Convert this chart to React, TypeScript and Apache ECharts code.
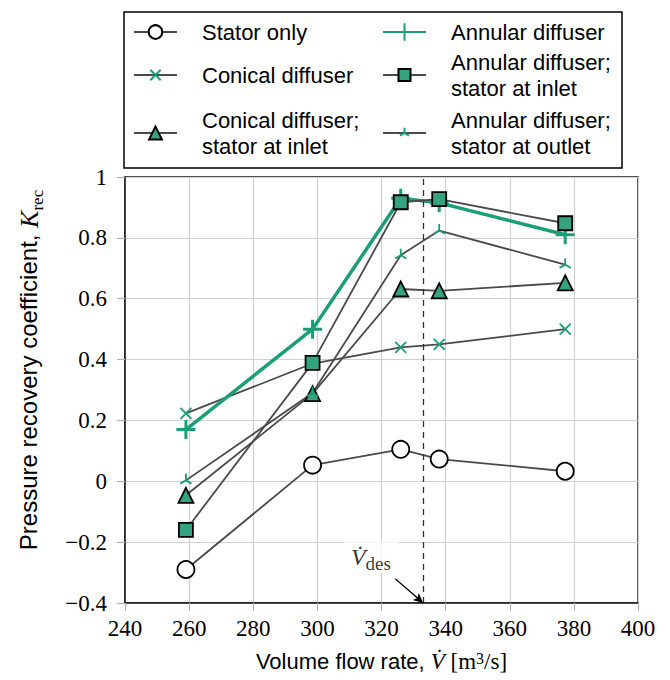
import React, { useEffect, useRef } from 'react';
import * as echarts from 'echarts';

// Volume flow rate [m^3/s]
const flowRates = [259, 298.5, 326, 338, 377.3];

// Pressure recovery coefficient K_rec per configuration
const statorOnly = [-0.29, 0.053, 0.105, 0.073, 0.033];
const conicalDiffuser = [0.223, 0.387, 0.44, 0.45, 0.5];
const conicalStatorInlet = [-0.046, 0.288, 0.632, 0.626, 0.652];
const annularDiffuser = [0.17, 0.5, 0.93, 0.915, 0.81];
const annularStatorInlet = [-0.16, 0.389, 0.917, 0.927, 0.848];
const annularStatorOutlet = [0.003, 0.29, 0.743, 0.824, 0.712];

const seriesNames = [
  'Stator only',
  'Conical diffuser',
  'Conical diffuser; stator at inlet',
  'Annular diffuser',
  'Annular diffuser; stator at inlet',
  'Annular diffuser; stator at outlet',
];

const designFlow = 333;
const annotationText = [316.7, -0.25];
const arrowStart = [324.3, -0.32];
const arrowEnd = [333, -0.4];

const GREEN = '#1b9e77';
const FILL = '#35a37f';
const GRAY = '#4a4a4a';

const crossPath = 'path://M0,0L10,10M10,0L0,10';
const plusPath = 'path://M0,5L10,5M5,0L5,10';
const triPath = 'path://M0,5L0,5M10,5L10,5M5,10L5,10M5,5L5,0M5,5L0.67,7.5M5,5L9.33,7.5';

const pts = (ys: number[]) => flowRates.map((x, i) => [x, ys[i]]);

export default function App() {
  const ref = useRef<HTMLDivElement>(null);
  useEffect(() => {
    const chart = echarts.init(ref.current!, null, { renderer: 'svg' });
    const grayLine = { color: GRAY, width: 1.8 };
    const sans = 'Liberation Sans';
    const serif = 'Liberation Serif';

    const legendPos = [
      { left: 133, center: 32, lines: 1, h: 17 },
      { left: 133, center: 75, lines: 1, h: 13 },
      { left: 133, center: 133, lines: 2, h: 16 },
      { left: 382, center: 32, lines: 1, h: 22 },
      { left: 382, center: 75, lines: 2, h: 15 },
      { left: 382, center: 133, lines: 2, h: 13 },
    ];

    const legends = seriesNames.map((name, i) => ({
      data: [name],
      left: legendPos[i].left,
      top: legendPos[i].center - 13 * legendPos[i].lines,
      orient: 'vertical',
      padding: 0,
      itemWidth: 43,
      itemHeight: legendPos[i].h,
      selectedMode: false,
      formatter: (n: string) => n.replace('; ', ';\n'),
      textStyle: {
        fontFamily: sans,
        fontSize: 22,
        color: '#000',
        lineHeight: 26,
        padding: [0, 0, 0, 20],
      },
    }));

    const tickStyle = { show: true, length: 8, lineStyle: { color: '#b0b0b0', width: 1.2 } };

    const option: any = {
      animation: false,
      backgroundColor: '#fff',
      legend: legends,
      graphic: [
        {
          type: 'rect',
          shape: { x: 124, y: 12, width: 498, height: 156 },
          style: { fill: 'none', stroke: '#000', lineWidth: 1.5 },
          z: 10,
        },
      ],
      grid: {
        left: 125,
        right: 32,
        top: 177,
        bottom: 77,
        show: true,
        borderColor: '#1a1a1a',
        borderWidth: 1.5,
      },
      xAxis: {
        type: 'value',
        min: 240,
        max: 400,
        interval: 20,
        name: '{a|Volume flow rate, }{v|V̇}{b| [m}{sup|3}{c|/s]}',
        nameLocation: 'middle',
        nameGap: 47,
        nameTextStyle: {
          rich: {
            a: { fontFamily: sans, fontSize: 22, color: '#000', lineHeight: 26, verticalAlign: 'top' },
            v: { fontFamily: serif, fontStyle: 'italic', fontSize: 23, color: '#000', lineHeight: 26, verticalAlign: 'top' },
            b: { fontFamily: serif, fontSize: 23, color: '#000', lineHeight: 26, verticalAlign: 'top' },
            sup: { fontFamily: serif, fontSize: 16, color: '#000', lineHeight: 16, verticalAlign: 'top' },
            c: { fontFamily: serif, fontSize: 23, color: '#000', lineHeight: 26, verticalAlign: 'top' },
          },
        },
        axisLine: { show: true, onZero: false, lineStyle: { color: '#1a1a1a', width: 1.5 } },
        axisTick: tickStyle,
        axisLabel: { fontFamily: serif, fontSize: 23, color: '#000', margin: 14 },
        splitLine: { show: true, lineStyle: { color: '#d0d0d0', width: 1.2 } },
      },
      yAxis: {
        type: 'value',
        min: -0.4,
        max: 1,
        interval: 0.2,
        name: '{a|Pressure recovery coefficient, }{k|K}{s|rec}',
        nameLocation: 'middle',
        nameRotate: 90,
        nameGap: 82,
        nameTextStyle: {
          padding: [0, 0, 0, 40],
          rich: {
            a: { fontFamily: sans, fontSize: 24, color: '#000', lineHeight: 27, verticalAlign: 'top' },
            k: { fontFamily: serif, fontStyle: 'italic', fontSize: 26, color: '#000', lineHeight: 27, verticalAlign: 'top' },
            s: { fontFamily: serif, fontSize: 17, color: '#000', lineHeight: 17, verticalAlign: 'top', padding: [13, 0, 0, 0] },
          },
        },
        axisLine: { show: true, onZero: false, lineStyle: { color: '#1a1a1a', width: 1.5 } },
        axisTick: tickStyle,
        axisLabel: {
          fontFamily: serif,
          fontSize: 23,
          color: '#000',
          margin: 18,
          formatter: (v: number) => {
            if (Math.abs(v) < 1e-9) return '0';
            if (Math.abs(v - 1) < 1e-9) return '1';
            return (v < 0 ? '−' : '') + Math.abs(v).toFixed(1);
          },
        },
        splitLine: { show: true, lineStyle: { color: '#d0d0d0', width: 1.2 } },
      },
      series: [
        {
          type: 'line',
          name: seriesNames[0],
          data: pts(statorOnly),
          symbol: 'circle',
          symbolSize: 17,
          itemStyle: { color: '#fff', borderColor: '#000', borderWidth: 1.8 },
          lineStyle: grayLine,
          markLine: {
            silent: true,
            symbol: 'none',
            label: { show: false },
            data: [
              {
                xAxis: designFlow,
                lineStyle: { color: '#333', width: 1.3, type: [6, 5] },
              },
              [
                { coord: arrowStart, symbol: 'none' },
                { coord: arrowEnd, symbol: 'arrow', symbolSize: [7, 10] },
              ],
            ],
            lineStyle: { color: '#000', width: 1.3, type: 'solid' },
          },
        },
        {
          type: 'line',
          name: seriesNames[1],
          data: pts(conicalDiffuser),
          symbol: crossPath,
          symbolSize: 11,
          itemStyle: { color: GREEN, borderColor: GREEN, borderWidth: 1.8 },
          lineStyle: grayLine,
        },
        {
          type: 'line',
          name: seriesNames[2],
          data: pts(conicalStatorInlet),
          symbol: 'triangle',
          symbolSize: 15,
          itemStyle: { color: FILL, borderColor: '#000', borderWidth: 1.8 },
          lineStyle: grayLine,
        },
        {
          type: 'line',
          name: seriesNames[3],
          data: pts(annularDiffuser),
          symbol: plusPath,
          symbolSize: 19,
          itemStyle: { color: GREEN, borderColor: GREEN, borderWidth: 3 },
          lineStyle: { color: GREEN, width: 3.5 },
        },
        {
          type: 'line',
          name: seriesNames[4],
          data: pts(annularStatorInlet),
          symbol: 'rect',
          symbolSize: 14,
          itemStyle: { color: FILL, borderColor: '#000', borderWidth: 1.8 },
          lineStyle: grayLine,
        },
        {
          type: 'line',
          name: seriesNames[5],
          data: pts(annularStatorOutlet),
          symbol: triPath,
          symbolSize: 13,
          itemStyle: { color: GREEN, borderColor: GREEN, borderWidth: 1.8 },
          lineStyle: grayLine,
        },
        {
          type: 'scatter',
          name: 'annotation',
          silent: true,
          symbolSize: 0,
          data: [annotationText],
          label: {
            show: true,
            position: 'inside',
            backgroundColor: '#fff',
            padding: [4, 7, 2, 7],
            formatter: '{v|V̇}{d|des}',
            rich: {
              v: { fontFamily: serif, fontStyle: 'italic', fontSize: 24, color: '#000', lineHeight: 26, verticalAlign: 'top' },
              d: { fontFamily: serif, fontSize: 19, color: '#000', lineHeight: 19, verticalAlign: 'top', padding: [9, 0, 0, 0] },
            },
          },
          z: 5,
        },
      ],
    };
    chart.setOption(option);
    return () => chart.dispose();
  }, []);
  return <div ref={ref} style={{ width: 670, height: 680, position: 'absolute', left: 0, top: 0 }} />;
}
